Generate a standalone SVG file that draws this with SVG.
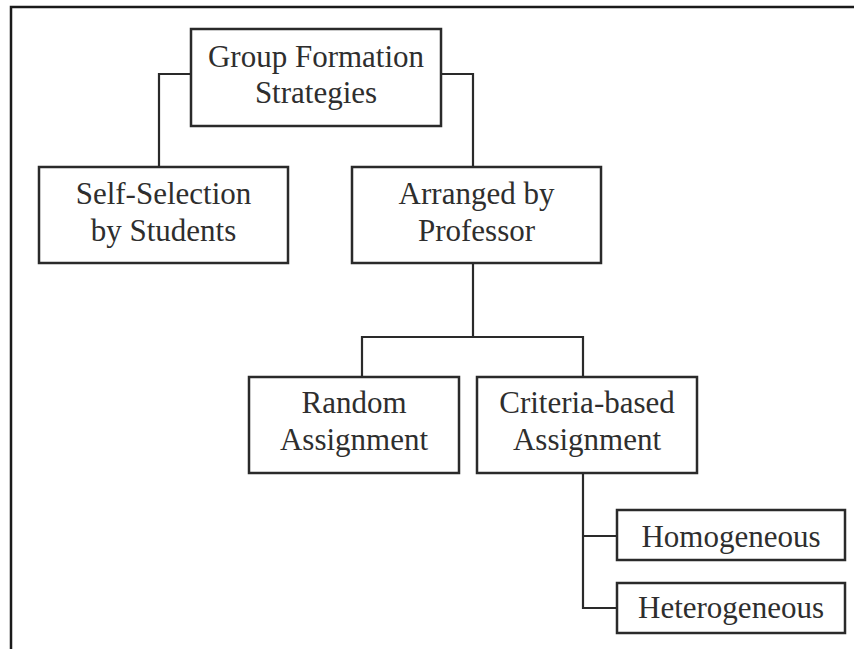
<svg xmlns="http://www.w3.org/2000/svg" width="854" height="649" viewBox="0 0 854 649">
<style>
.box{fill:#fff;stroke:#2a2a2a;stroke-width:2.5}
.lbl{font-family:"Liberation Serif","Times New Roman",serif;font-size:31px;fill:#2e2e2e;text-anchor:middle}
.con{fill:none;stroke:#2a2a2a;stroke-width:2.2}
.frame{fill:none;stroke:#1a1a1a;stroke-width:2.5}
</style>
<rect width="854" height="649" fill="#fff"/>
<path class="frame" d="M11,649 V7 H854"/>
<g id="connectors">
<path class="con" d="M191,74 H159 V167"/>
<path class="con" d="M441,74 H473 V167"/>
<path class="con" d="M473,263 V337"/>
<path class="con" d="M362,377 V337 H583 V377"/>
<path class="con" d="M583,473 V608 H617"/>
<path class="con" d="M583,536 H617"/>
</g>
<g id="root">
<rect class="box" x="191" y="29" width="250" height="97"/>
<text class="lbl" x="316" y="67">Group Formation</text>
<text class="lbl" x="316" y="103">Strategies</text>
</g>
<g id="self-selection">
<rect class="box" x="39" y="167" width="249" height="96"/>
<text class="lbl" x="163.5" y="204">Self-Selection</text>
<text class="lbl" x="163.5" y="241">by Students</text>
</g>
<g id="arranged">
<rect class="box" x="352" y="167" width="249" height="96"/>
<text class="lbl" x="476.5" y="204">Arranged by</text>
<text class="lbl" x="476.5" y="241">Professor</text>
</g>
<g id="random">
<rect class="box" x="249" y="377" width="210" height="96"/>
<text class="lbl" x="354" y="413">Random</text>
<text class="lbl" x="354" y="450">Assignment</text>
</g>
<g id="criteria">
<rect class="box" x="477" y="377" width="220" height="96"/>
<text class="lbl" x="587" y="413">Criteria-based</text>
<text class="lbl" x="587" y="450">Assignment</text>
</g>
<g id="homogeneous">
<rect class="box" x="617" y="510" width="228" height="50"/>
<text class="lbl" x="731" y="547">Homogeneous</text>
</g>
<g id="heterogeneous">
<rect class="box" x="617" y="583" width="228" height="50"/>
<text class="lbl" x="731" y="618">Heterogeneous</text>
</g>
</svg>
